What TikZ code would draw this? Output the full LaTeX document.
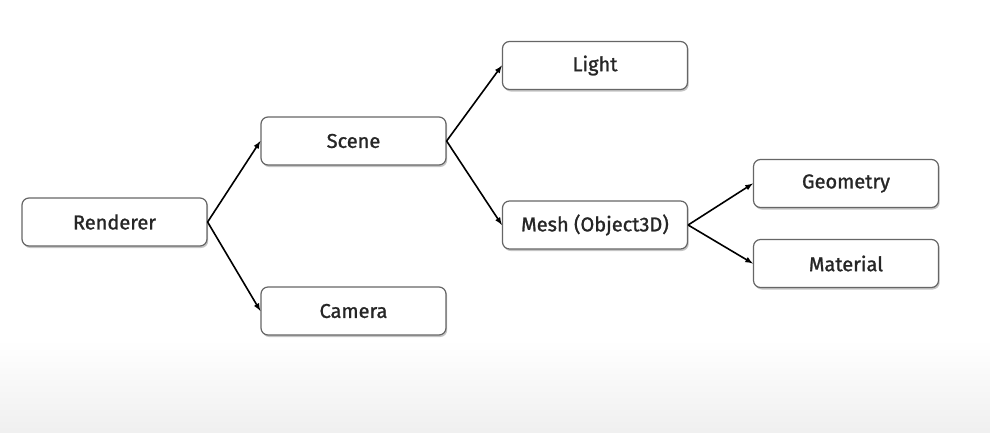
\documentclass[tikz,border=0pt]{standalone}
\usepackage{fontspec}
\setmainfont{Fira Sans}
\newfontfamily\boxfont[FakeBold=1.2]{Fira Sans}
\usetikzlibrary{shadows}
\begin{document}
\begin{tikzpicture}[x=1pt,y=-1pt,
    box/.style={draw=black!60, line width=1.2pt, fill=white, rounded corners=7pt,
      minimum width=185pt, minimum height=48pt, inner sep=0pt, text=black!85,
      font=\boxfont\fontsize{20}{24}\selectfont,
      drop shadow={shadow xshift=1.2pt, shadow yshift=-2pt, opacity=0.45}},
    link/.style={->,>=latex, line width=1.6pt}]
      % background
      \fill[white] (0,0) rectangle (990,340);
      \shade[top color=white, bottom color=black!6] (0,340) rectangle (990,432);
      \useasboundingbox (0,0) rectangle (990,432);
      \node[box] (renderer) at (114.5,222) {Renderer};
      \node[box] (scene) at (353.5,141) {Scene};
      \node[box] (camera) at (353.5,311) {Camera};
      \node[box] (light) at (595,65.5) {Light};
      \node[box] (mesh) at (595,225) {Mesh (Object3D)};
      \node[box] (geometry) at (846,183.5) {Geometry};
      \node[box] (material) at (846,263.5) {Material};
      \draw[link] (renderer.east) -- (scene.west);
      \draw[link] (renderer.east) -- (camera.west);
      \draw[link] (scene.east) -- (light.west);
      \draw[link] (scene.east) -- (mesh.west);
      \draw[link] (mesh.east) -- (geometry.west);
      \draw[link] (mesh.east) -- (material.west);
\end{tikzpicture}
\end{document}
